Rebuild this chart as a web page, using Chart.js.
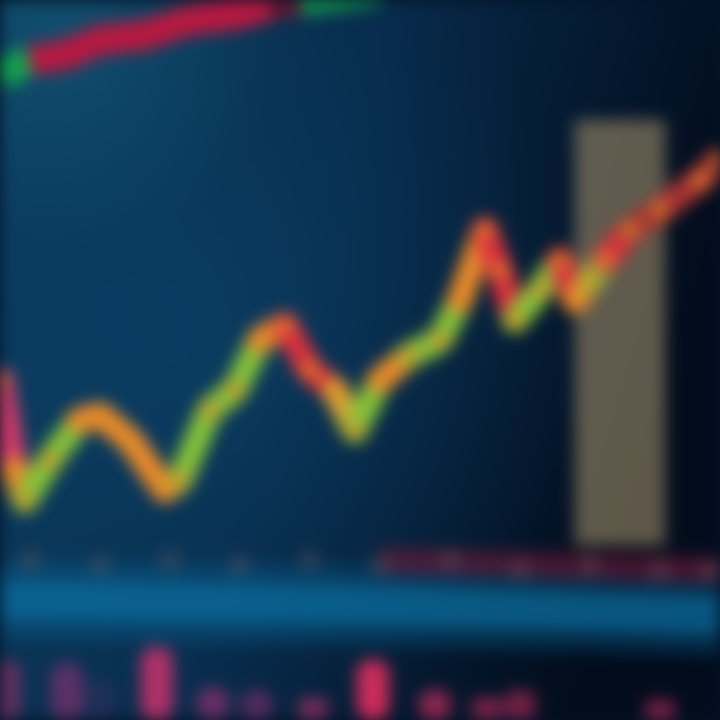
<!DOCTYPE html>
<html>
<head>
<meta charset="utf-8">
<script src="https://cdn.jsdelivr.net/npm/chart.js@4.4.1/dist/chart.umd.min.js"></script>
<style>
html,body{margin:0;padding:0;background:#04142a;overflow:hidden;}
#wrap{width:720px;height:720px;position:relative;overflow:hidden;}
canvas{filter:blur(8px);}
</style>
</head>
<body>
<div id="wrap"><canvas id="c" width="720" height="720"></canvas></div>
<script>
// ---- data ----
const priceX = [0,1.5,2.5,5,8,10,13,16.5,18,21,23.5,26,28.5,31,33.5,35.5,38,41,44,46,48.5,50,51.5,54,56,57.5,59,60.5,63,66,70,72];
const priceY = [34,25,22,26,30,30.5,28,23,24,31,33,38,39.5,35,33,29,34,36.5,38,42,49,45,40,43,46,42,44,46,49,51,54,56];
const upperX = [0,3,6.5,10,14.5,19,23.5,27,30,34,38];
const upperY = [64.5,66,66.5,68,68.5,70,70.5,71.5,72,72.5,73];
const highlightX = [62];
const highlightRange = [[17.5,60]];
const bandX = [0,36,72];
const bandY = [12,11.5,10.5];
const lowerX = [3,10,17,24,31,38,45,52,59,66,71];
const lowerY = [16,15.5,16,15.5,16,15.5,16,15,15.5,15,15];
const volumeX = [0.5,6.7,10,15.7,21.3,25.7,31.3,37.3,43.5,48.7,52,66];
const volumeY = [6,5.7,4,7.3,3.3,3,2.3,6,3,2.3,3,2];

// ---- styles ----
const R='#d8303c', O='#e88a2a', G='#84c23a', Y='#d9a632', DR='#a83232', P='#d43c6a';
const priceColors = [P,O,G,G,O,O,O,O,G,G,G,O,R,R,Y,G,O,G,G,O,R,R,G,G,R,O,G,R,DR,DR,DR];
const upperColors = ['#14a050','#b81840','#b81840','#b81840','#b81840','#b81840','#b81840','#601830','#14a050','#14a050','#0c5a3a'];
const volumeColors = ['rgba(170,50,110,0.55)','rgba(160,50,120,0.55)','rgba(90,50,110,0.3)','rgba(215,50,110,0.8)',
  'rgba(170,50,120,0.6)','rgba(160,50,120,0.5)','rgba(190,50,110,0.6)','rgba(225,45,95,0.9)',
  'rgba(200,45,95,0.7)','rgba(200,45,95,0.6)','rgba(190,45,95,0.6)','rgba(200,45,95,0.6)'];

const bgPlugin = {
  id:'bg',
  beforeDraw(chart){
    const {ctx,width,height} = chart;
    ctx.save();
    const g = ctx.createLinearGradient(0,0,width,height*0.3);
    g.addColorStop(0,'#0a3a5c');
    g.addColorStop(0.5,'#072a4a');
    g.addColorStop(1,'#020c1c');
    ctx.fillStyle = g;
    ctx.fillRect(0,0,width,height);
    const r = ctx.createRadialGradient(180,330,20,180,330,420);
    r.addColorStop(0,'rgba(12,70,110,0.55)');
    r.addColorStop(1,'rgba(12,70,110,0)');
    ctx.fillStyle = r;
    ctx.fillRect(0,0,width,height);
    const t = ctx.createRadialGradient(60,30,10,60,30,220);
    t.addColorStop(0,'rgba(20,90,120,0.6)');
    t.addColorStop(1,'rgba(20,90,120,0)');
    ctx.fillStyle = t;
    ctx.fillRect(0,0,width,height);
    ctx.restore();
  }
};

const pts = (xs,ys)=>xs.map((x,i)=>({x, y: ys[i]}));

new Chart(document.getElementById('c'), {
  data:{
    datasets:[
      { type:'bar', data: highlightX.map((x,i)=>({x, y: highlightRange[i]})), grouped:false,
        backgroundColor:'rgba(140,126,96,0.68)', barThickness:90, order:5 },
      { type:'line', data: pts(bandX,bandY), borderColor:'rgba(10,100,150,0.35)',
        borderWidth:80, pointRadius:0, order:7 },
      { type:'line', data: pts(bandX,bandY), borderColor:'rgba(12,115,165,0.6)',
        borderWidth:40, pointRadius:0, order:6 },
      { type:'line', data: pts([38,55,72],[16,15.5,15]), borderColor:'rgba(110,25,55,0.6)',
        borderWidth:26, pointRadius:0, order:6 },
      { type:'line', data: pts(lowerX,lowerY), showLine:false,
        pointStyle:'rect', pointRadius:12, pointBackgroundColor:'rgba(120,95,100,0.4)', pointBorderWidth:0, order:4 },
      { type:'bar', data: pts(volumeX,volumeY), grouped:false, backgroundColor: volumeColors,
        barThickness:32, borderRadius:14, borderSkipped:false, order:3 },
      { type:'line', data: pts(upperX,upperY), borderWidth:30, pointRadius:0,
        segment:{ borderColor: ctx => upperColors[ctx.p0DataIndex] }, order:2 },
      { type:'line', data: pts(priceX,priceY), borderWidth:26, borderCapStyle:'round', borderJoinStyle:'round',
        pointStyle:'rect', pointRadius:11, pointBackgroundColor:'rgba(232,140,40,0.75)', pointBorderWidth:0,
        segment:{ borderColor: ctx => priceColors[ctx.p0DataIndex] }, order:1 }
    ]
  },
  options:{
    responsive:false, animation:false,
    layout:{padding:0, autoPadding:false},
    plugins:{legend:{display:false}, tooltip:{enabled:false}},
    scales:{
      x:{type:'linear', min:0, max:72, display:false, offset:false, grace:0},
      y:{type:'linear', min:0, max:72, display:false, grace:0}
    }
  },
  plugins:[bgPlugin]
});
</script>
</body>
</html>
